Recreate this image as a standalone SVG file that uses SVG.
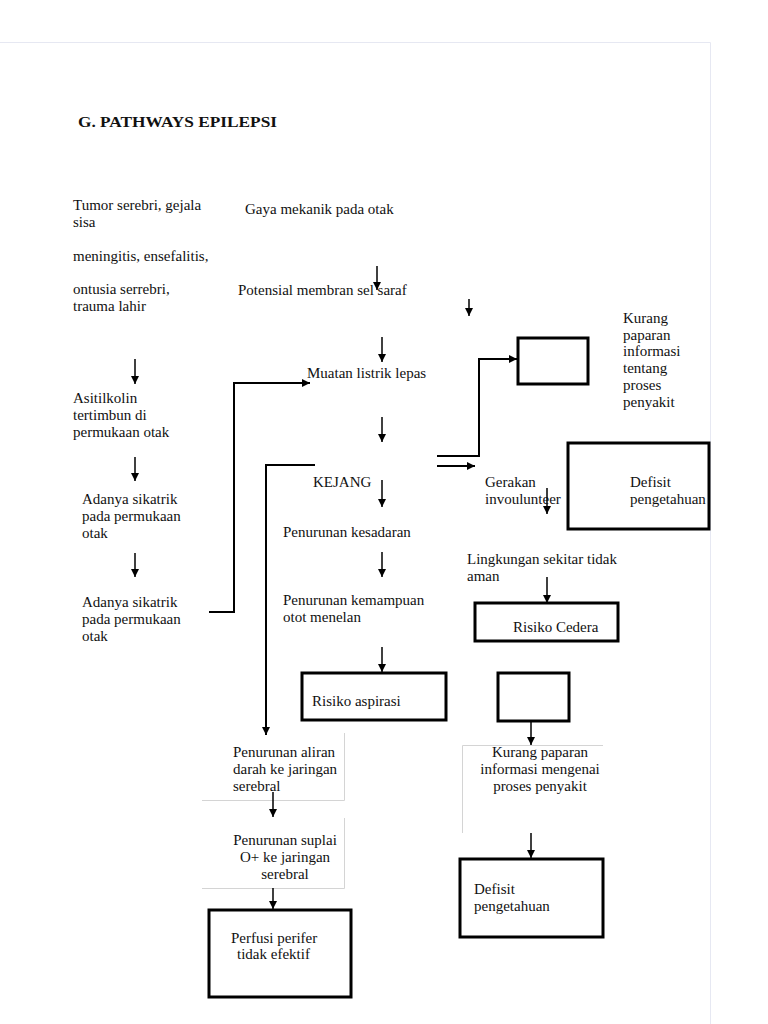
<svg xmlns="http://www.w3.org/2000/svg" width="768" height="1024" viewBox="0 0 768 1024">
<defs>
<marker id="ah" markerWidth="9" markerHeight="9" refX="8" refY="4" orient="auto" markerUnits="userSpaceOnUse">
<path d="M0,0 L8,4 L0,8 z" fill="#000"/>
</marker>
<style>
text{font-family:"Liberation Serif","Times New Roman",serif;font-size:15px;fill:#111}
.title{font-weight:bold;font-size:15px}
.c{text-anchor:middle}
.arr{fill:none;stroke:#000;stroke-width:1.5;marker-end:url(#ah)}
.ln{fill:none;stroke:#000;stroke-width:2}
.lnA{fill:none;stroke:#000;stroke-width:2;marker-end:url(#ah)}
.thin{fill:none;stroke:#d4d4d4;stroke-width:1}
.box{fill:#fff;stroke:#000;stroke-width:3}
.page{fill:none;stroke:#e6e8f2;stroke-width:1}
</style>
</defs>
<rect width="768" height="1024" fill="#fff"/>
<path class="page" d="M0,42.5 H710.5 V1024"/>
<text class="title" x="78" y="127" textLength="199" lengthAdjust="spacingAndGlyphs">G. PATHWAYS EPILEPSI</text>

<g id="n-tumor"><text x="73" y="210">Tumor serebri, gejala</text><text x="73" y="227">sisa</text></g>
<g id="n-meningitis"><text x="73" y="261">meningitis,  ensefalitis,</text></g>
<g id="n-ontusia"><text x="73" y="294">ontusia serrebri,</text><text x="73" y="311">trauma lahir</text></g>
<g id="n-asitilkolin"><text x="73" y="403">Asitilkolin</text><text x="73" y="420">tertimbun di</text><text x="73" y="437">permukaan  otak</text></g>
<g id="n-sikatrik1"><text x="82" y="504">Adanya sikatrik</text><text x="82" y="521">pada permukaan</text><text x="82" y="538">otak</text></g>
<g id="n-sikatrik2"><text x="82" y="607">Adanya sikatrik</text><text x="82" y="624">pada permukaan</text><text x="82" y="641">otak</text></g>

<g id="n-gaya"><text x="245" y="214">Gaya mekanik pada otak</text></g>
<g id="n-potensial"><text x="238" y="295">Potensial membran sel saraf</text></g>
<g id="n-muatan"><text x="307" y="378">Muatan listrik lepas</text></g>
<g id="n-kejang"><text x="313" y="487">KEJANG</text></g>
<g id="n-kesadaran"><text x="283" y="537">Penurunan kesadaran</text></g>
<g id="n-menelan"><text x="283" y="605">Penurunan kemampuan</text><text x="283" y="622">otot menelan</text></g>
<g id="n-aspirasi"><rect class="box" x="302" y="673" width="144" height="47"/><text x="312" y="706">Risiko  aspirasi</text></g>

<g id="n-aliran"><path class="thin" d="M344.5,733 V800.5 H202"/><text x="233" y="757">Penurunan aliran</text><text x="233" y="774">darah ke jaringan</text><text x="233" y="791">serebral</text></g>
<g id="n-suplai"><path class="thin" d="M344.5,818 V888.5 H202"/><text class="c" x="285" y="845">Penurunan suplai</text><text class="c" x="285" y="862">O+ ke jaringan</text><text class="c" x="285" y="879">serebral</text></g>
<g id="n-perfusi"><rect class="box" x="209" y="910" width="142" height="87"/><text x="231" y="943">Perfusi perifer</text><text x="237" y="959">tidak efektif</text></g>

<g id="n-empty1"><rect class="box" x="518" y="338" width="70" height="46"/></g>
<g id="n-kurang1"><text x="623" y="323">Kurang</text><text x="623" y="340">paparan</text><text x="623" y="356">informasi</text><text x="623" y="373">tentang</text><text x="623" y="390">proses</text><text x="623" y="407">penyakit</text></g>
<g id="n-defisit1"><rect class="box" x="568" y="443" width="141" height="86"/><text x="630" y="487">Defisit</text><text x="630" y="504" font-size="14">pengetahuan</text></g>
<g id="n-gerakan"><text x="485" y="487">Gerakan</text><text x="485" y="504">invoulunteer</text></g>
<g id="n-lingkungan"><text x="467" y="564">Lingkungan sekitar tidak</text><text x="467" y="581">aman</text></g>
<g id="n-cedera"><rect class="box" x="475" y="603" width="143" height="38"/><text x="513" y="632">Risiko Cedera</text></g>
<g id="n-empty2"><rect class="box" x="498" y="673" width="71" height="48"/></g>
<g id="n-kurang2"><path class="thin" d="M603,745.5 H462.5 V833"/><text class="c" x="540" y="757">Kurang paparan</text><text class="c" x="540" y="774">informasi mengenai</text><text class="c" x="540" y="791">proses penyakit</text></g>
<g id="n-defisit2"><rect class="box" x="460" y="859" width="143" height="78"/><text x="474" y="894">Defisit</text><text x="474" y="911">pengetahuan</text></g>

<g id="connectors">
<path class="arr" d="M135,359 V384"/>
<path class="arr" d="M135,457 V481"/>
<path class="arr" d="M135,553 V577"/>
<path class="lnA" d="M209,612 H234 V383 H310"/>
<path class="arr" d="M377,266 V290"/>
<path class="arr" d="M469,299 V316"/>
<path class="arr" d="M382,337 V362"/>
<path class="arr" d="M382,417 V442"/>
<path class="lnA" d="M315,465 H266 V735"/>
<path class="arr" d="M382,480 V507"/>
<path class="lnA" d="M437,456 H479 V359 H517"/>
<path class="lnA" d="M437,466 H475"/>
<path class="arr" d="M547,488 V514"/>
<path class="arr" d="M382,552 V577"/>
<path class="arr" d="M382,647 V672"/>
<path class="arr" d="M547,577 V603"/>
<path class="arr" d="M531,721 V745"/>
<path class="arr" d="M273,792 V817"/>
<path class="arr" d="M531,833 V858"/>
<path class="arr" d="M273,888 V909"/>
</g>
</svg>
